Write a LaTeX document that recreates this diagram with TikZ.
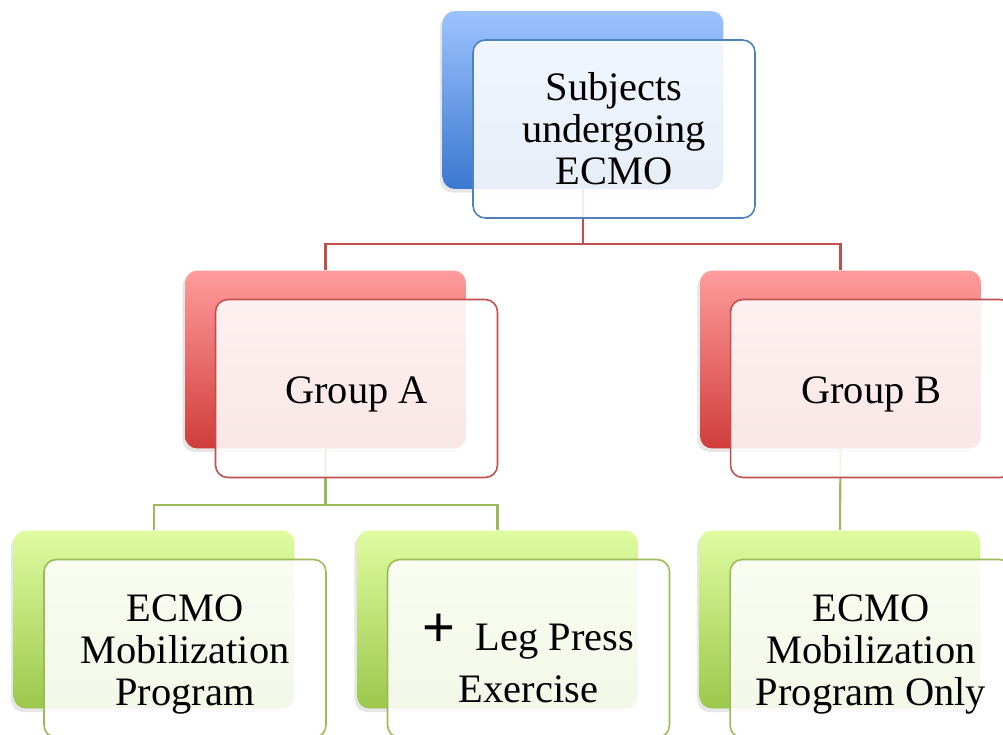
\documentclass[tikz,border=0pt]{standalone}
\usepackage{fontspec}
\setmainfont{Liberation Serif}
\newfontfamily\plusfont{Liberation Sans}
\usetikzlibrary{positioning}
\usetikzlibrary{shadows}
\definecolor{bluetop}{HTML}{9DC3FF}
\definecolor{bluebot}{HTML}{3A78CF}
\definecolor{blueline}{HTML}{4F81BD}
\definecolor{redtop}{HTML}{FF9C9C}
\definecolor{redbot}{HTML}{CF3D3A}
\definecolor{redline}{HTML}{C0504D}
\definecolor{greentop}{HTML}{DFFCA0}
\definecolor{greenbot}{HTML}{9BC84C}
\definecolor{greenline}{HTML}{9BBB59}
\newcommand{\topstrut}[1]{\rule{0pt}{#1}}

\begin{document}
\begin{tikzpicture}[x=0.02cm, y=-0.02cm,
    back/.style={rounded corners=7pt, minimum width=5.62cm, minimum height=3.56cm,
        inner sep=0pt, drop shadow={shadow xshift=-1.5pt, shadow yshift=-2pt, opacity=0.2}},
    front/.style={rounded corners=7pt, minimum width=5.64cm, minimum height=3.56cm,
        inner sep=0pt, line width=0.9pt, fill=white, fill opacity=0.88, text opacity=1,
        align=center, font=\fontsize{23}{24}\selectfont},
    link/.style={line width=1.2pt}]
    \useasboundingbox (0,0) rectangle (1003,734);
    \clip (0,0) rectangle (1003,734);

    % Back boxes (shaded)
    \node[back, top color=bluetop, bottom color=bluebot] (topback) at (583,100) {};
    \node[back, top color=redtop, bottom color=redbot] (gAback) at (325.5,359.5) {};
    \node[back, top color=redtop, bottom color=redbot] (gBback) at (840.5,359.5) {};
    \node[back, top color=greentop, bottom color=greenbot] (pAback) at (154,619.5) {};
    \node[back, top color=greentop, bottom color=greenbot] (lpback) at (497.5,619.5) {};
    \node[back, top color=greentop, bottom color=greenbot] (pBback) at (840,619.5) {};

    % Connectors (under the front boxes)
    \draw[link, redline] (topback.south) -- ++(0,55) -| (gAback.north);
    \draw[link, redline] (topback.south) -- ++(0,55) -| (gBback.north);
    \draw[link, greenline] (gAback.south) -- ++(0,56) -| (pAback.north);
    \draw[link, greenline] (gAback.south) -- ++(0,56) -| (lpback.north);
    \draw[link, greenline] (gBback.south) -- (pBback.north);

    % Front boxes with text
    \node[front, draw=blueline] (topfront) at ([shift={(31,29)}]topback)
        {Subjects\\undergoing\\ECMO};
    \node[front, draw=redline] (gAfront) at ([shift={(31,29)}]gAback) {\topstrut{22pt}Group A};
    \node[front, draw=redline] (gBfront) at ([shift={(31,29)}]gBback) {\topstrut{22pt}Group B};
    \node[front, draw=greenline] (pAfront) at ([shift={(31,29)}]pAback)
        {\topstrut{22pt}ECMO\\Mobilization\\Program};
    \node[front, draw=greenline] (lpfront) at ([shift={(31,29)}]lpback)
        {\topstrut{32pt}\raisebox{2pt}{\plusfont\fontsize{32}{32}\selectfont +}\ \ Leg Press\\[6pt]Exercise};
    \node[front, draw=greenline] (pBfront) at ([shift={(31,29)}]pBback)
        {\topstrut{22pt}ECMO\\Mobilization\\Program Only};
\end{tikzpicture}
\end{document}
